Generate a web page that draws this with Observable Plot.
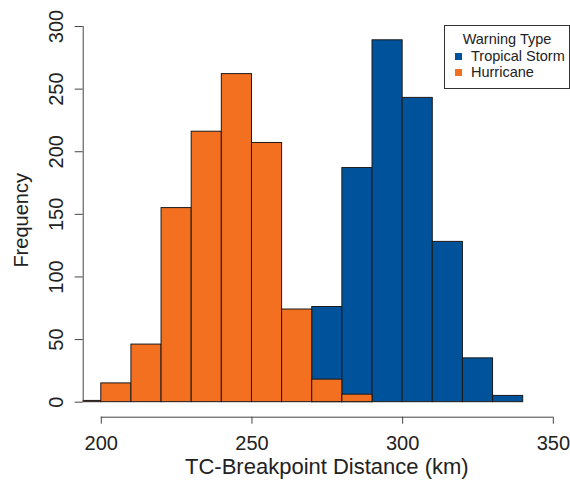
<!DOCTYPE html>
<html><head><meta charset="utf-8">
<script src="https://cdn.jsdelivr.net/npm/d3@7"></script>
<script src="https://cdn.jsdelivr.net/npm/@observablehq/plot@0.6"></script>
<style>
body{margin:0;background:#fff;}
#wrap{position:relative;width:570px;height:483px;overflow:hidden;font-family:"Liberation Sans",Arial,sans-serif;}
#legend{position:absolute;left:444px;top:25px;width:126px;height:64px;border:1px solid #333;box-sizing:border-box;background:#fff;font-size:14.5px;color:#222;}
#legend .ttl{position:absolute;left:0;width:100%;top:5px;text-align:center;}
#legend .it{position:absolute;left:26px;white-space:nowrap;}
#legend .sw{position:absolute;left:-16px;top:5px;width:7px;height:7px;}
</style></head>
<body><div id="wrap"></div>
<script>
// Data
const hurricaneBins = [190, 200, 210, 220, 230, 240, 250, 260, 270, 280];
const hurricaneCounts = [1, 15, 46, 155, 216, 262, 207, 74, 18, 6];
const stormBins = [270, 280, 290, 300, 310, 320, 330];
const stormCounts = [76, 187, 289, 243, 128, 35, 5];
const binWidth = 10;
const xTicks = [200, 250, 300, 350];
const yTicks = [0, 50, 100, 150, 200, 250, 300];
const seriesNames = ["Tropical Storm", "Hurricane"];
const seriesColors = ["#00539B", "#F37021"];
const xLabel = "TC-Breakpoint Distance (km)";
const yLabel = "Frequency";
const legendTitle = "Warning Type";

const hurr = hurricaneBins.map((b, i) => ({x1: b, x2: b + binWidth, count: hurricaneCounts[i]}));
const storm = stormBins.map((b, i) => ({x1: b, x2: b + binWidth, count: stormCounts[i]}));

const xDomain = [194, 355.7];
const yDomain = [-12, 312];
const ink = "#222";

const chart = Plot.plot({
  width: 570, height: 483,
  marginLeft: 82.7, marginRight: 0, marginTop: 11, marginBottom: 66.3,
  x: {domain: xDomain},
  y: {domain: yDomain},
  style: {fontFamily: '"Liberation Sans", Arial, sans-serif', background: "transparent", color: ink, overflow: "visible"},
  marks: [
    Plot.rect(storm, {x1: "x1", x2: "x2", y1: () => 0, y2: "count", fill: seriesColors[0], stroke: "#1a1a1a", strokeWidth: 1, clip: true}),
    Plot.rect(hurr, {x1: "x1", x2: "x2", y1: () => 0, y2: "count", fill: seriesColors[1], stroke: "#1a1a1a", strokeWidth: 1, clip: true}),
    Plot.ruleX([xDomain[0]], {y1: yTicks[0], y2: yTicks[yTicks.length - 1], stroke: "#444"}),
    Plot.ruleY([yDomain[0]], {x1: xTicks[0], x2: xTicks[xTicks.length - 1], stroke: "#444"}),
    Plot.axisY({ticks: yTicks, tickSize: 8, tickFormat: () => "", label: null, stroke: "#444"}),
    Plot.text(yTicks, {y: d => d, text: d => String(d), frameAnchor: "left", dx: -27, rotate: -90, fontSize: 20, textAnchor: "middle", lineAnchor: "middle", fill: ink}),
    Plot.axisX({ticks: xTicks, tickSize: 7, tickPadding: 12, fontSize: 20, label: null, stroke: "#444"}),
    Plot.text([xLabel], {frameAnchor: "bottom", dy: 50, textAnchor: "middle", lineAnchor: "middle", fontSize: 22, fill: ink}),
    Plot.text([yLabel], {frameAnchor: "left", dx: -62, dy: 6, rotate: -90, textAnchor: "middle", lineAnchor: "middle", fontSize: 20, fill: ink})
  ]
});
const wrap = document.getElementById("wrap");
wrap.appendChild(chart);

const legend = document.createElement("div");
legend.id = "legend";
let html = `<div class="ttl">${legendTitle}</div>`;
seriesNames.forEach((n, i) => {
  html += `<div class="it" style="top:${22 + i * 16}px"><span class="sw" style="background:${seriesColors[i]}"></span>${n}</div>`;
});
legend.innerHTML = html;
wrap.appendChild(legend);
</script>
</body></html>
